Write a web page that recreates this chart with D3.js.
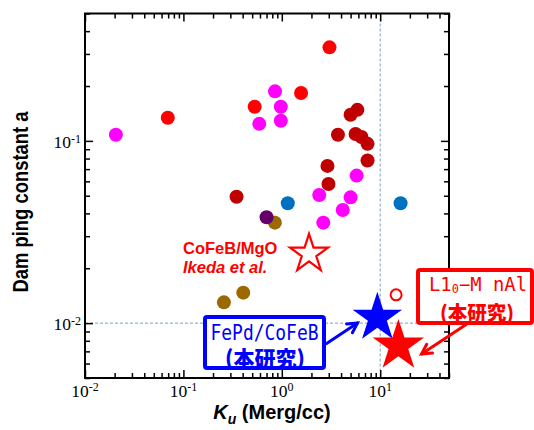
<!DOCTYPE html>
<meta charset="utf-8">
<style>
body { margin: 0; background: #fff; }
svg { display: block; }
.tick line { stroke: #000; stroke-width: 1.5; }
</style>
<svg width="534" height="430"></svg>
<script src="https://d3js.org/d3.v7.min.js"></script>
<script>

// Ku (Merg/cc) and damping constant, one pair of arrays per colour group
var magentaKu    = [0.0206, 0.59, 0.853, 0.977, 0.977, 5.76, 2.40, 5.0, 4.16, 2.64];
var magentaAlpha = [0.108, 0.124, 0.187, 0.154, 0.129, 0.0645, 0.0505, 0.049, 0.0418, 0.0356];

var redKu    = [3.05, 0.0694, 0.53, 1.57];
var redAlpha = [0.326, 0.134, 0.154, 0.183];

var darkRedKu    = [0.347, 2.91, 2.98, 3.72, 5.0, 5.86, 5.62, 6.45, 7.43, 7.43];
var darkRedAlpha = [0.0494, 0.0729, 0.058, 0.108, 0.139, 0.148, 0.109, 0.105, 0.0963, 0.078];

var blueKu    = [1.15, 16.1];
var blueAlpha = [0.0455, 0.0455];

var brownKu    = [0.85, 0.406, 0.258];
var brownAlpha = [0.0356, 0.0147, 0.013];

var purpleKu    = [0.70];
var purpleAlpha = [0.0381];

// reference / this work
var ikedaKu = 1.89, ikedaAlpha = 0.024;
var fepdKu = 9.35, fepdAlpha = 0.0107;
var mnalKu = 15.3, mnalAlpha = 0.0075;
var mnalOpenKu = 14.5, mnalOpenAlpha = 0.0143;

// arrows [fromKu, fromAlpha, toKu, toAlpha]
var blueArrow = [2.85, 0.00773, 5.88, 0.01002];
var redArrow  = [76, 0.00989, 26.3, 0.00677];

var xMajor = [0.01, 0.1, 1, 10];
var yMajor = [0.01, 0.1];

var svg = d3.select("svg");

var x = d3.scaleLog().domain([0.01, 50]).range([85, 449]);
var y = d3.scaleLog().domain([0.005, 0.5]).range([378, 13.5]);

function logTicks(lo, hi) {
  var out = [];
  for (var e = -3; e <= 2; e++)
    for (var k = 1; k <= 9; k++) {
      var v = +(k * Math.pow(10, e)).toPrecision(3);
      if (v >= lo * 0.999 && v <= hi * 1.001) out.push(v);
    }
  return out;
}
var xTicks = logTicks(0.01, 50);
var yTicks = logTicks(0.005, 0.5);

function isMajor(v) { return Math.abs(Math.log10(v) - Math.round(Math.log10(v))) < 1e-6; }

// guide lines
var guide = svg.append("g")
  .attr("stroke", "#7f9dc0")
  .attr("stroke-width", 1)
  .attr("stroke-dasharray", "3,2");
guide.append("line")
  .attr("x1", x(10)).attr("x2", x(10))
  .attr("y1", y.range()[1]).attr("y2", y.range()[0]);
guide.append("line")
  .attr("x1", x.range()[0]).attr("x2", x.range()[1])
  .attr("y1", y(0.01)).attr("y2", y(0.01));

// axes, ticks pointing inwards on all four sides
function styleTicks(g, sign) {
  g.select(".domain").remove();
  g.selectAll(".tick line").each(function(d) {
    var len = isMajor(d) ? 8 : 5;
    var el = d3.select(this);
    if (el.attr("x2") != null && +el.attr("x2") !== 0) el.attr("x2", sign * len);
    else el.attr("y2", sign * len);
  });
}

var axBottom = svg.append("g").attr("transform", "translate(0," + y.range()[0] + ")")
  .call(d3.axisBottom(x).tickValues(xTicks).tickSize(-5).tickFormat(""));
styleTicks(axBottom, -1);
var axTop = svg.append("g").attr("transform", "translate(0," + y.range()[1] + ")")
  .call(d3.axisTop(x).tickValues(xTicks).tickSize(-5).tickFormat(""));
styleTicks(axTop, 1);
var axLeft = svg.append("g").attr("transform", "translate(" + x.range()[0] + ",0)")
  .call(d3.axisLeft(y).tickValues(yTicks).tickSize(-5).tickFormat(""));
styleTicks(axLeft, 1);
var axRight = svg.append("g").attr("transform", "translate(" + x.range()[1] + ",0)")
  .call(d3.axisRight(y).tickValues(yTicks).tickSize(-5).tickFormat(""));
styleTicks(axRight, -1);

svg.append("rect")
  .attr("x", x.range()[0]).attr("y", y.range()[1])
  .attr("width", x.range()[1] - x.range()[0])
  .attr("height", y.range()[0] - y.range()[1])
  .attr("fill", "none").attr("stroke", "#000").attr("stroke-width", 2);

// tick labels 10^n
function powText(sel) {
  sel.text("10")
    .append("tspan")
    .attr("dy", "-0.42em")
    .attr("font-size", "12px")
    .text(function(d) { return String(Math.round(Math.log10(d))); });
}
svg.append("g").selectAll("text").data(xMajor).join("text")
  .attr("x", function(d) { return x(d); })
  .attr("y", 396.5)
  .attr("text-anchor", "middle")
  .attr("font-family", "Liberation Serif, serif").attr("font-size", 17.5)
  .call(powText);
svg.append("g").selectAll("text").data(yMajor).join("text")
  .attr("x", 81)
  .attr("y", function(d) { return y(d) + 7; })
  .attr("text-anchor", "end")
  .attr("font-family", "Liberation Serif, serif").attr("font-size", 17.5)
  .call(powText);

// axis titles
var xt = svg.append("text")
  .attr("x", 272).attr("y", 419)
  .attr("text-anchor", "middle")
  .attr("font-family", "Liberation Sans, Arial, sans-serif")
  .attr("font-weight", "bold").attr("font-size", 20);
xt.append("tspan").attr("font-style", "italic").text("K");
xt.append("tspan").attr("font-style", "italic").attr("font-size", 14).attr("dy", 5).text("u");
xt.append("tspan").attr("dy", -5).text(" (Merg/cc)");

svg.append("text")
  .attr("transform", "translate(20,202) rotate(-90)")
  .attr("text-anchor", "middle")
  .attr("dominant-baseline", "central")
  .attr("font-family", "Liberation Sans Narrow, Arial Narrow, sans-serif")
  .attr("font-weight", "bold").attr("font-size", 22)
  .attr("textLength", 181).attr("lengthAdjust", "spacingAndGlyphs")
  .text("Dam ping constant a");

// scattered literature points
function dots(ku, alpha, color) {
  svg.append("g").selectAll("circle").data(d3.zip(ku, alpha)).join("circle")
    .attr("cx", function(d) { return x(d[0]); })
    .attr("cy", function(d) { return y(d[1]); })
    .attr("r", 7)
    .attr("fill", color);
}
dots(magentaKu, magentaAlpha, "#ff00ff");
dots(redKu, redAlpha, "#ff0000");
dots(darkRedKu, darkRedAlpha, "#c00000");
dots(blueKu, blueAlpha, "#0070c0");
dots(brownKu, brownAlpha, "#9c6800");
dots(purpleKu, purpleAlpha, "#660066");

// stars
var star = d3.symbol().type(d3.symbolStar);
function starSize(r) { return r * r / 0.8908130915292852; }

svg.append("path")
  .attr("d", star.size(starSize(20))())
  .attr("transform", "translate(" + x(ikedaKu) + "," + y(ikedaAlpha) + ")")
  .attr("fill", "#fff").attr("stroke", "#ff0000").attr("stroke-width", 2.2);
svg.append("path")
  .attr("d", star.size(starSize(26))())
  .attr("transform", "translate(" + x(fepdKu) + "," + y(fepdAlpha) + ")")
  .attr("fill", "#0000ff");
svg.append("path")
  .attr("d", star.size(starSize(27))())
  .attr("transform", "translate(" + x(mnalKu) + "," + y(mnalAlpha) + ")")
  .attr("fill", "#ff0000");
svg.append("circle")
  .attr("cx", x(mnalOpenKu)).attr("cy", y(mnalOpenAlpha))
  .attr("r", 5.5)
  .attr("fill", "#fff").attr("stroke", "#ff0000").attr("stroke-width", 2);

// CoFeB/MgO label
var ik = svg.append("g").attr("fill", "#ff0000")
  .attr("font-family", "Liberation Sans, Arial, sans-serif")
  .attr("font-weight", "bold").attr("font-size", 16.5);
ik.append("text").attr("x", 183).attr("y", 254).text("CoFeB/MgO");
ik.append("text").attr("x", 183).attr("y", 272.5).attr("font-style", "italic").text("Ikeda et al.");

// arrows
function arrow(a, color) {
  var x1 = x(a[0]), y1 = y(a[1]), x2 = x(a[2]), y2 = y(a[3]);
  var ang = Math.atan2(y2 - y1, x2 - x1), L = 11, w = 0.5;
  var g = svg.append("g").attr("stroke", color).attr("stroke-width", 3)
    .attr("fill", "none").attr("stroke-linecap", "round");
  g.append("line").attr("x1", x1).attr("y1", y1).attr("x2", x2).attr("y2", y2);
  g.append("path").attr("d", "M" + (x2 - L * Math.cos(ang - w)) + "," + (y2 - L * Math.sin(ang - w)) +
    "L" + x2 + "," + y2 +
    "L" + (x2 - L * Math.cos(ang + w)) + "," + (y2 - L * Math.sin(ang + w)));
}
arrow(blueArrow, "#0000ff");
arrow(redArrow, "#ff0000");

// boxed labels
var fp = svg.append("g");
fp.append("rect").attr("x", 205).attr("y", 317).attr("width", 119).attr("height", 51).attr("rx", 2)
  .attr("fill", "#fff").attr("stroke", "#0000ff").attr("stroke-width", 4);
fp.append("text").attr("x", 264.5).attr("y", 340).attr("text-anchor", "middle")
  .attr("fill", "#0000ff").attr("font-family", "DejaVu Sans Mono, monospace").attr("font-size", 22)
  .attr("textLength", 108).attr("lengthAdjust", "spacingAndGlyphs")
  .text("FePd/CoFeB");
fp.append("text").attr("x", 265).attr("y", 366).attr("text-anchor", "middle")
  .attr("fill", "#0000ff").attr("font-family", "Noto Sans CJK JP, sans-serif").attr("font-weight", 900)
  .attr("font-size", 21).text("(本研究)");

var mn = svg.append("g");
mn.append("rect").attr("x", 418).attr("y", 270).attr("width", 114).attr("height", 53).attr("rx", 2)
  .attr("fill", "#fff").attr("stroke", "#ff0000").attr("stroke-width", 4);
var l1 = mn.append("text").attr("x", 429).attr("y", 290.5)
  .attr("fill", "#ff0000").attr("font-family", "DejaVu Sans Mono, monospace").attr("font-size", 19)
  .attr("textLength", 98).attr("lengthAdjust", "spacingAndGlyphs");
l1.append("tspan").text("L1");
l1.append("tspan").attr("dy", 2).attr("font-size", 12).text("0");
l1.append("tspan").attr("dy", -2).text("\u2212M nAl");
mn.append("text").attr("x", 477).attr("y", 319.5).attr("text-anchor", "middle")
  .attr("fill", "#ff0000").attr("font-family", "Noto Sans CJK JP, sans-serif").attr("font-weight", 900)
  .attr("font-size", 19.5).text("(本研究)");

</script>
